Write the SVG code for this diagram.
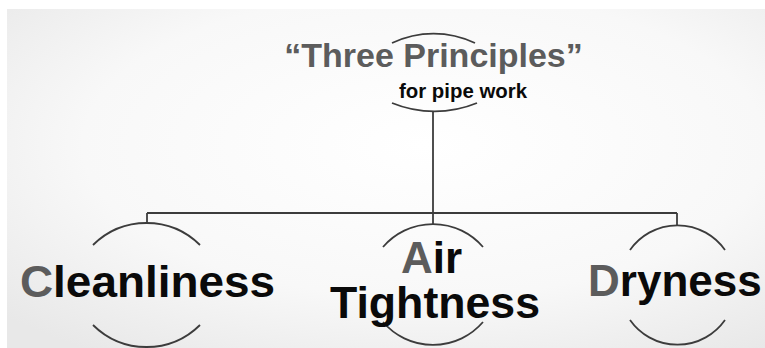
<svg xmlns="http://www.w3.org/2000/svg" width="765" height="348" viewBox="0 0 765 348">
  <defs>
    <radialGradient id="bg" cx="55%" cy="40%" r="75%">
      <stop offset="0" stop-color="#ffffff"/>
      <stop offset="0.6" stop-color="#f8f8f8"/>
      <stop offset="1" stop-color="#e8e8e8"/>
    </radialGradient>
    <style>
      .arc { fill: none; stroke: #3c3c3c; stroke-width: 1.8; }
      .line { fill: none; stroke: #3c3c3c; stroke-width: 1.8; }
      .t { font-family: "Liberation Sans", Arial, sans-serif; font-weight: bold; }
      .grey { fill: #5c5c5c; }
      .blk { fill: #0a0a0a; }
    </style>
  </defs>

  <rect x="0" y="0" width="765" height="348" fill="#ffffff"/>
  <rect x="7" y="9" width="758" height="339" fill="url(#bg)"/>

  <g id="connectors">
    <line class="line" x1="433" y1="111" x2="433" y2="224"/>
    <line class="line" x1="147" y1="213" x2="677" y2="213"/>
    <line class="line" x1="147" y1="213" x2="147" y2="223"/>
    <line class="line" x1="677" y1="213" x2="677" y2="225"/>
  </g>

  <g id="title">
    <path class="arc" d="M392,43 A96,96 0 0,1 475,43"/>
    <text class="t grey" x="433.5" y="66.5" font-size="34" text-anchor="middle">“Three Principles”</text>
    <path class="arc" d="M392,103 A112,112 0 0,0 477,103"/>
    <text class="t blk" x="399" y="97.5" font-size="20" textLength="128" lengthAdjust="spacingAndGlyphs">for pipe work</text>
  </g>

  <g id="node-cleanliness">
    <path class="arc" d="M93,245 A76,76 0 0,1 200,245"/>
    <path class="arc" d="M93,325 A76,76 0 0,0 200,325"/>
    <text class="t blk" x="20" y="297" font-size="44" textLength="255" lengthAdjust="spacingAndGlyphs"><tspan class="grey">C</tspan>leanliness</text>
  </g>

  <g id="node-air-tightness">
    <path class="arc" d="M383,247 A66,66 0 0,1 483,247"/>
    <path class="arc" d="M383,322 A66,66 0 0,0 483,322"/>
    <text class="t blk" x="401" y="273" font-size="44"><tspan class="grey">A</tspan>ir</text>
    <text class="t blk" x="330" y="318" font-size="44" textLength="210" lengthAdjust="spacingAndGlyphs">Tightness</text>
  </g>

  <g id="node-dryness">
    <path class="arc" d="M630,250 A58,58 0 0,1 725,250"/>
    <path class="arc" d="M630,320 A58,58 0 0,0 725,320"/>
    <text class="t blk" x="588" y="296" font-size="44"><tspan class="grey">D</tspan>ryness</text>
  </g>
</svg>
